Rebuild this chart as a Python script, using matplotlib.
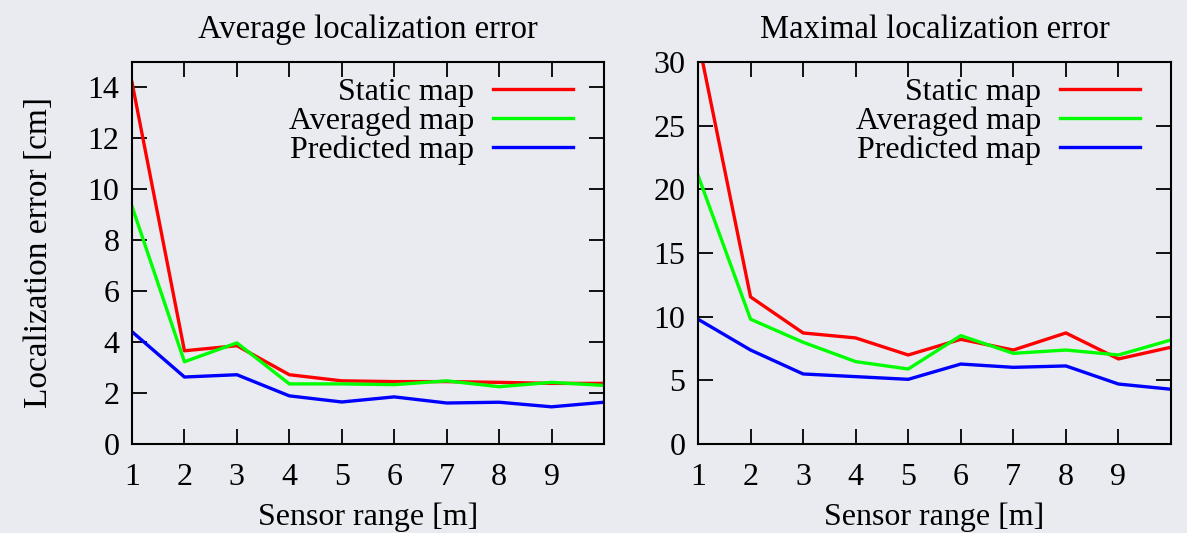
import matplotlib.pyplot as plt
import numpy as np

sensor_range = [1, 2, 3, 4, 5, 6, 7, 8, 9, 10]

# average localization error [cm]
avg_static = [14.2, 3.66, 3.86, 2.72, 2.48, 2.45, 2.45, 2.42, 2.38, 2.38]
avg_averaged = [9.33, 3.23, 3.97, 2.36, 2.36, 2.33, 2.48, 2.25, 2.42, 2.3]
avg_predicted = [4.41, 2.63, 2.72, 1.89, 1.65, 1.85, 1.61, 1.64, 1.46, 1.64]

# maximal localization error [cm]
max_static = [31.8, 11.55, 8.72, 8.33, 6.99, 8.22, 7.38, 8.72, 6.68, 7.6]
max_averaged = [21.1, 9.8, 7.99, 6.47, 5.89, 8.51, 7.12, 7.38, 6.99, 8.17]
max_predicted = [9.8, 7.38, 5.5, 5.29, 5.08, 6.28, 6.02, 6.13, 4.71, 4.3]

labels = ["Static map", "Averaged map", "Predicted map"]
colors = ["#ff0000", "#00ff00", "#0000ff"]
xticks = [1, 2, 3, 4, 5, 6, 7, 8, 9]

plt.rcParams["font.family"] = ["Liberation Serif", "DejaVu Serif"]
plt.rcParams["font.size"] = 23

bg = "#e9ebf0"
fig = plt.figure(figsize=(11.87, 5.33), dpi=100, facecolor=bg)
ax1 = fig.add_axes([132 / 1187, 89 / 533, 472 / 1187, 382 / 533])
ax2 = fig.add_axes([698 / 1187, 89 / 533, 473 / 1187, 382 / 533])

panels = [
    (ax1, [avg_static, avg_averaged, avg_predicted], "Average localization error", 15, np.arange(0, 15, 2)),
    (ax2, [max_static, max_averaged, max_predicted], "Maximal localization error", 30, np.arange(0, 31, 5)),
]

for ax, series, title, ymax, yticks in panels:
    ax.set_facecolor("none")
    for vals, lab, col in zip(series, labels, colors):
        ax.plot(sensor_range, vals, color=col, lw=2.4, label=lab)
    ax.set_xlim(1, 10)
    ax.set_ylim(0, ymax)
    ax.set_xticks(xticks)
    ax.set_yticks(yticks)
    ax.tick_params(direction="in", top=True, right=True, length=11, width=1.3)
    ax.tick_params(axis="x", pad=14)
    ax.tick_params(axis="y", pad=9)
    for sp in ax.spines.values():
        sp.set_linewidth(1.5)
    ax.set_xlabel("Sensor range [m]", labelpad=7)
    ax.set_title(title, fontsize=23.5, pad=17)
    ax.legend(loc="upper right", bbox_to_anchor=(0.935, 0.958), frameon=False,
              markerfirst=False, handlelength=2.5, handletextpad=0.6,
              labelspacing=-0.02, borderpad=0, borderaxespad=0, fontsize=23)

ax1.set_ylabel("Localization error [cm]", fontsize=24, labelpad=24)

fig.savefig("out.png", dpi=100, facecolor=bg)
